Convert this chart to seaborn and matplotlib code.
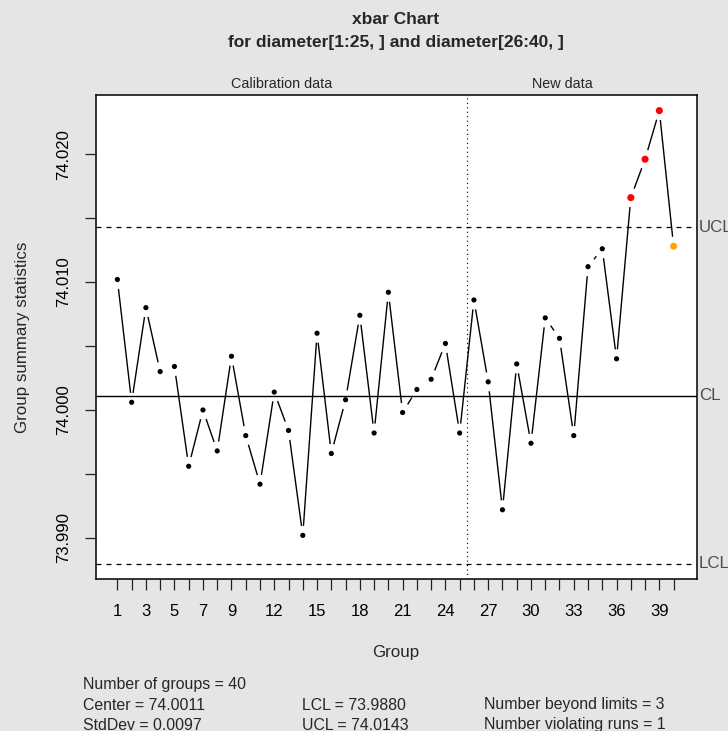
import numpy as np
import pandas as pd
import matplotlib
matplotlib.use("Agg")
import matplotlib.pyplot as plt
import seaborn as sns

# Piston ring diameters: subgroup means (calibration 1-25, new data 26-40)
groups = list(range(1, 41))
means = [74.0102, 74.0006, 74.0080, 74.0030, 74.0034, 73.9956, 74.0000, 73.9968,
         74.0042, 73.9980, 73.9942, 74.0014, 73.9984, 73.9902, 74.0060, 73.9966,
         74.0008, 74.0074, 73.9982, 74.0092, 73.9998, 74.0016, 74.0024, 74.0052,
         73.9982,
         74.0086, 74.0022, 73.9922, 74.0036, 73.9974, 74.0072, 74.0056, 73.9980,
         74.0112, 74.0126, 74.0040, 74.0166, 74.0196, 74.0234, 74.0128]
status = ["ok"] * 36 + ["beyond", "beyond", "beyond", "run"]

center = 74.0011
lcl = 73.9880
ucl = 74.0143
std_dev = 0.0097
n_calib = 25
n_beyond = 3
n_runs = 1

xtick_labels = [1, 3, 5, 7, 9, 12, 15, 18, 21, 24, 27, 30, 33, 36, 39]
ytick_values = [73.990, 73.995, 74.000, 74.005, 74.010, 74.015, 74.020]

df = pd.DataFrame({"group": groups, "mean": means, "status": status})

sns.set_theme(style="white")
plt.rcParams["font.family"] = ["Liberation Sans", "DejaVu Sans"]

W, H, DPI = 728, 731, 100
fig = plt.figure(figsize=(W / DPI, H / DPI), dpi=DPI, facecolor="#E5E5E5")
ax = fig.add_axes([95.7 / W, 1 - 579 / H, (696.7 - 95.7) / W, (579 - 95) / H])
ax.set_facecolor("white")
ax.set_xlim(-0.52, 41.62)
ax.set_ylim(73.98679, 74.02462)

for s in ax.spines.values():
    s.set_color("black")
    s.set_linewidth(1.1)

# connecting line with gaps around each point (R type = "b")
gap = 9.5
pts = ax.transData.transform(np.column_stack([df["group"], df["mean"]]))
inv = ax.transData.inverted()
for p1, p2 in zip(pts[:-1], pts[1:]):
    d = p2 - p1
    L = np.hypot(*d)
    if L > 2 * gap:
        u = d / L
        a = inv.transform(p1 + u * gap)
        b = inv.transform(p2 - u * gap)
        ax.plot([a[0], b[0]], [a[1], b[1]], color="black", lw=1.0,
                solid_capstyle="butt", zorder=2)

# control lines
ax.axhline(center, color="black", lw=1.0, zorder=1)
ax.axhline(ucl, color="black", lw=0.9, ls=(0, (4, 4)), zorder=1)
ax.axhline(lcl, color="black", lw=0.9, ls=(0, (4, 4)), zorder=1)
ax.axvline(n_calib + 0.5, color="black", lw=0.8, ls=(0, (1, 3)), zorder=1)

palette = {"ok": "black", "beyond": "#FF0000", "run": "#FFA500"}
sizes = {"ok": 14, "beyond": 26, "run": 26}
sns.scatterplot(data=df, x="group", y="mean", hue="status", palette=palette,
                size="status", sizes=sizes, linewidth=0, legend=False,
                ax=ax, zorder=3)

# axes, ticks
ax.set_xticks(groups)
ax.set_xticklabels([str(g) if g in xtick_labels else "" for g in groups])
ax.set_yticks(ytick_values)
ax.set_yticklabels([f"{v:.3f}" if round(v * 1000) % 10 == 0 else "" for v in ytick_values],
                   rotation=90, va="center")
ax.tick_params(axis="both", direction="out", length=8, width=0.9, color="#222222",
               labelsize=12, labelcolor="black", bottom=True, left=True)
ax.tick_params(axis="x", pad=10)
ax.tick_params(axis="y", pad=10)
ax.set_xlabel("")
ax.set_ylabel("")

fig.text(23 / W, 1 - 337 / H, "Group summary statistics", rotation=90,
         ha="center", va="center", fontsize=12.2)
fig.text(396 / W, 1 - 653 / H, "Group", ha="center", va="center", fontsize=12.2)

# titles
fig.text(396 / W, 1 - 20 / H, "xbar Chart", ha="center", va="center",
         fontsize=12.5, fontweight="bold")
fig.text(396 / W, 1 - 42 / H, "for diameter[1:25, ] and diameter[26:40, ]",
         ha="center", va="center", fontsize=12.5, fontweight="bold")

# section labels above the plotting region
sec_y = (579 - 84) / (579 - 95)
ax.text(12.5, sec_y, "Calibration data", transform=ax.get_xaxis_transform(),
        ha="center", va="center", fontsize=10.4)
ax.text(32.2, sec_y, "New data", transform=ax.get_xaxis_transform(),
        ha="center", va="center", fontsize=10.4)

# control line labels on the right
for val, lab in [(ucl, "UCL"), (center, "CL"), (lcl, "LCL")]:
    ax.text(1.004, val, lab, transform=ax.get_yaxis_transform(), ha="left",
            va="center", fontsize=12.2, color="#4D4D4D", clip_on=False)

# summary block
stats_rows = [
    [(83, f"Number of groups = {len(groups)}")],
    [(83, f"Center = {center:.4f}"), (302, f"LCL = {lcl:.4f}"),
     (484, f"Number beyond limits = {n_beyond}")],
    [(83, f"StdDev = {std_dev:.4f}"), (302, f"UCL = {ucl:.4f}"),
     (484, f"Number violating runs = {n_runs}")],
]
for i, row in enumerate(stats_rows):
    y = 685 + 20 * i
    for x, txt in row:
        fig.text(x / W, 1 - y / H, txt, ha="left", va="center", fontsize=11.4)

fig.savefig("out.png", dpi=DPI, facecolor=fig.get_facecolor())
